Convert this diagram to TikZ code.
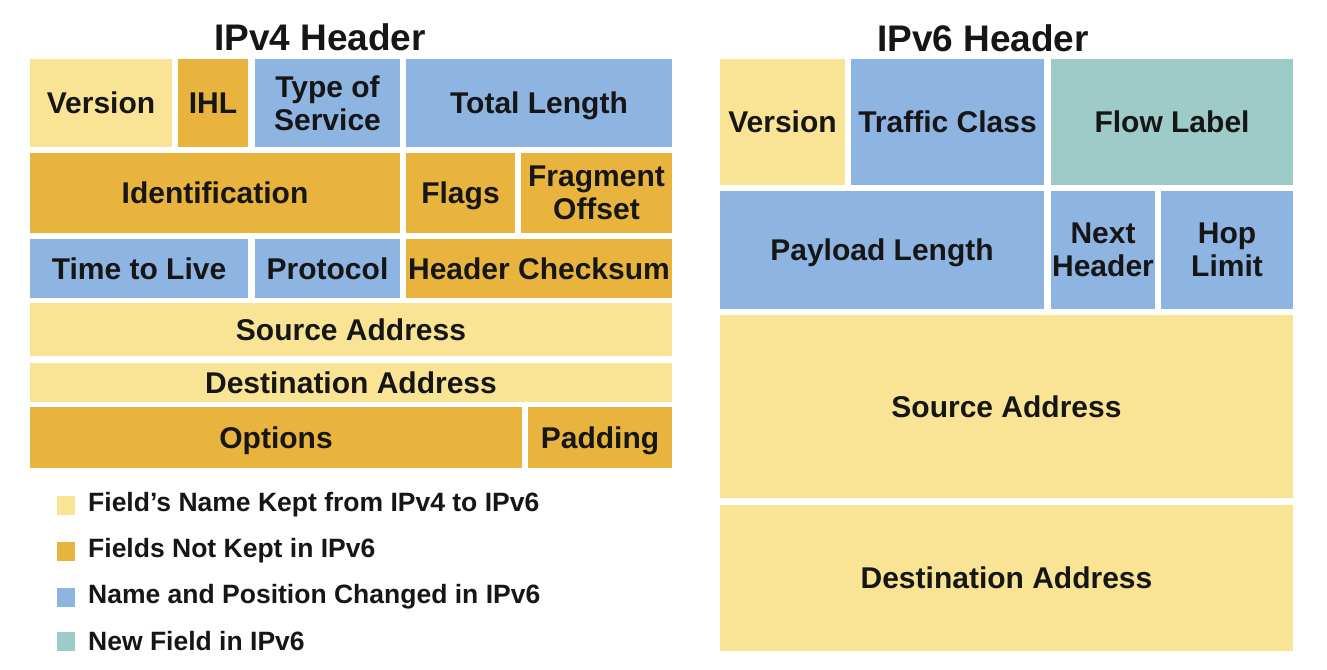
\documentclass[tikz,border=0pt]{standalone}
\usepackage{fontspec}
\setmainfont{Liberation Sans}
\definecolor{kept}{RGB}{249,228,150}
\definecolor{dropped}{RGB}{232,180,62}
\definecolor{changed}{RGB}{142,180,226}
\definecolor{newfield}{RGB}{158,203,200}
\definecolor{ink}{RGB}{22,22,22}
\tikzset{
  field/.style={rectangle, inner sep=0pt, outer sep=0pt, draw=none, align=center,
    text depth=-5pt, text=ink, font=\fontsize{30}{33}\selectfont\bfseries},
  title/.style={inner sep=0pt, text=ink, font=\fontsize{37}{40}\selectfont\bfseries},
  swatch/.style={rectangle, inner sep=0pt, minimum width=18pt, minimum height=19pt},
  legendtext/.style={anchor=west, inner sep=0pt, text=ink, font=\fontsize{26.5}{29}\selectfont\bfseries},
}
\begin{document}
\begin{tikzpicture}[x=1pt, y=-1pt]
\useasboundingbox[fill=white] (0,0) rectangle (1327,669);

% ---------- IPv4 header ----------
\node[title] (t4) at (320,37) {IPv4 Header};

\node[field, fill=kept,    minimum width=142pt, minimum height=88pt] (v4ver)   at (101,103)   {Version};
\node[field, fill=dropped, minimum width=70pt,  minimum height=88pt] (v4ihl)   at (213,103)   {IHL};
\node[field, fill=changed, minimum width=145pt, minimum height=88pt] (v4tos)   at (327.5,103) {Type of\\Service};
\node[field, fill=changed, minimum width=266pt, minimum height=88pt] (v4len)   at (539,103)   {Total Length};

\node[field, fill=dropped, minimum width=370pt, minimum height=80pt] (v4id)    at (215,193)   {Identification};
\node[field, fill=dropped, minimum width=109pt, minimum height=80pt] (v4flags) at (460.5,193) {Flags};
\node[field, fill=dropped, minimum width=151pt, minimum height=80pt] (v4frag)  at (596.5,193) {Fragment\\Offset};

\node[field, fill=changed, minimum width=218pt, minimum height=59pt] (v4ttl)   at (139,268.5)   {Time to Live};
\node[field, fill=changed, minimum width=145pt, minimum height=59pt] (v4proto) at (327.5,268.5) {Protocol};
\node[field, fill=dropped, minimum width=266pt, minimum height=59pt] (v4csum)  at (539,268.5)   {Header Checksum};

\node[field, fill=kept,    minimum width=642pt, minimum height=53pt] (v4src)   at (351,329.5) {Source Address};
\node[field, fill=kept,    minimum width=642pt, minimum height=39pt] (v4dst)   at (351,382.5) {Destination Address};

\node[field, fill=dropped, minimum width=492pt, minimum height=61pt] (v4opt)   at (276,437.5) {Options};
\node[field, fill=dropped, minimum width=144pt, minimum height=61pt] (v4pad)   at (600,437.5) {Padding};

% ---------- legend ----------
\node[swatch, fill=kept]     (sw1) at (66,505) {};
\node[swatch, fill=dropped]  (sw2) at (66,551) {};
\node[swatch, fill=changed]  (sw3) at (66,597) {};
\node[swatch, fill=newfield] (sw4) at (66,641) {};
\node[legendtext] (lg1) at (88,505) {Field’s Name Kept from IPv4 to IPv6};
\node[legendtext] (lg2) at (88,551) {Fields Not Kept in IPv6};
\node[legendtext] (lg3) at (88,597) {Name and Position Changed in IPv6};
\node[legendtext] (lg4) at (88,641) {New Field in IPv6};

% ---------- IPv6 header ----------
\node[title] (t6) at (983,38) {IPv6 Header};

\node[field, fill=kept,     minimum width=125pt, minimum height=126pt] (v6ver)  at (782.5,122)  {Version};
\node[field, fill=changed,  minimum width=193pt, minimum height=126pt] (v6tc)   at (947.5,122)  {Traffic Class};
\node[field, fill=newfield, minimum width=242pt, minimum height=126pt] (v6flow) at (1172,122)   {Flow Label};

\node[field, fill=changed,  minimum width=324pt, minimum height=118pt] (v6plen) at (882,250)    {Payload Length};
\node[field, fill=changed,  minimum width=104pt, minimum height=118pt] (v6next) at (1103,250)   {Next\\Header};
\node[field, fill=changed,  minimum width=132pt, minimum height=118pt] (v6hop)  at (1227,250)   {Hop\\Limit};

\node[field, fill=kept,     minimum width=573pt, minimum height=183pt] (v6src)  at (1006.5,406.5) {Source Address};
\node[field, fill=kept,     minimum width=573pt, minimum height=146pt] (v6dst)  at (1006.5,578)   {Destination Address};
\end{tikzpicture}
\end{document}
